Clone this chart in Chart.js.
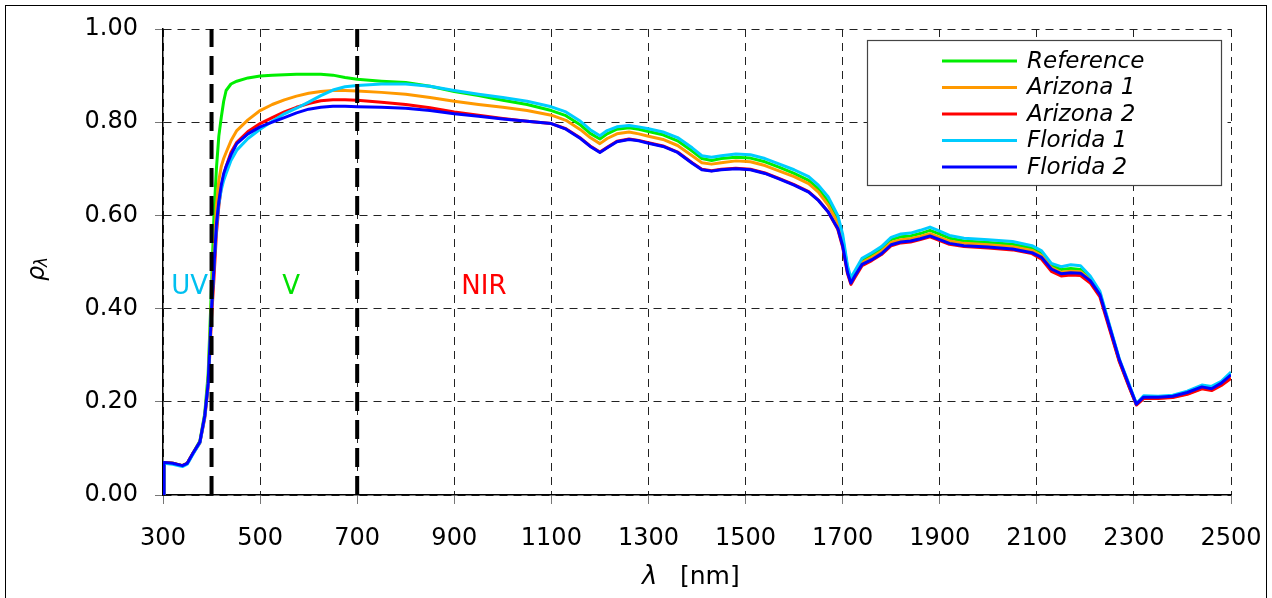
<!DOCTYPE html>
<html>
<head>
<meta charset="utf-8">
<script src="https://cdn.jsdelivr.net/npm/chart.js@4.4.0/dist/chart.umd.min.js"></script>
<style>
  html, body { margin: 0; padding: 0; background: #fff; }
</style>
</head>
<body>
<canvas id="reflChart" width="1272" height="598"></canvas>
<script>
// wavelength [nm]
var wavelengths = [
  300, 302, 320, 340, 350, 362, 376, 386, 393, 400,
  405, 410, 415, 420, 425, 430, 440, 452, 475, 500,
  525, 550, 575, 600, 625, 650, 675, 700, 750, 800,
  850, 900, 950, 1000, 1050, 1100, 1130, 1160, 1180, 1200,
  1215, 1235, 1260, 1280, 1300, 1330, 1360, 1390, 1410, 1430,
  1450, 1480, 1510, 1540, 1570, 1600, 1630, 1650, 1670, 1690,
  1700, 1710, 1717, 1725, 1740, 1760, 1780, 1800, 1820, 1840,
  1860, 1880, 1900, 1920, 1950, 2000, 2050, 2090, 2110, 2130,
  2150, 2170, 2190, 2210, 2230, 2250, 2270, 2290, 2305, 2320,
  2350, 2380, 2410, 2440, 2460, 2480, 2500
];

var reference = [
  0.00, 0.070, 0.068, 0.063, 0.068, 0.090, 0.116, 0.175, 0.260, 0.450,
  0.600, 0.700, 0.770, 0.810, 0.845, 0.868, 0.882, 0.888, 0.895, 0.899,
  0.901, 0.902, 0.903, 0.903, 0.903, 0.901, 0.896, 0.892, 0.888, 0.885,
  0.877, 0.866, 0.857, 0.847, 0.838, 0.825, 0.814, 0.794, 0.776, 0.764,
  0.775, 0.785, 0.788, 0.785, 0.780, 0.773, 0.760, 0.738, 0.722, 0.718,
  0.722, 0.725, 0.723, 0.715, 0.703, 0.690, 0.675, 0.657, 0.630, 0.592,
  0.552, 0.487, 0.462, 0.477, 0.503, 0.515, 0.528, 0.548, 0.554, 0.556,
  0.561, 0.568, 0.560, 0.551, 0.545, 0.542, 0.538, 0.530, 0.519, 0.492,
  0.484, 0.486, 0.484, 0.466, 0.433, 0.361, 0.289, 0.235, 0.195, 0.211,
  0.210, 0.212, 0.220, 0.233, 0.230, 0.240, 0.258
];

var arizona1 = [
  0.00, 0.070, 0.068, 0.063, 0.068, 0.090, 0.114, 0.170, 0.245, 0.420,
  0.520, 0.620, 0.675, 0.705, 0.722, 0.735, 0.760, 0.782, 0.805, 0.825,
  0.838, 0.848, 0.856, 0.862, 0.866, 0.868, 0.868, 0.867, 0.864, 0.860,
  0.853, 0.845, 0.838, 0.832, 0.825, 0.815, 0.804, 0.784, 0.767, 0.754,
  0.765, 0.775, 0.779, 0.775, 0.770, 0.763, 0.750, 0.728, 0.713, 0.710,
  0.713, 0.717, 0.715, 0.707, 0.695, 0.683, 0.668, 0.650, 0.622, 0.584,
  0.545, 0.483, 0.458, 0.473, 0.499, 0.510, 0.523, 0.542, 0.548, 0.550,
  0.555, 0.561, 0.553, 0.545, 0.540, 0.537, 0.533, 0.525, 0.514, 0.488,
  0.478, 0.480, 0.479, 0.462, 0.430, 0.358, 0.287, 0.233, 0.194, 0.208,
  0.208, 0.210, 0.217, 0.229, 0.226, 0.237, 0.252
];

var arizona2 = [
  0.00, 0.070, 0.068, 0.063, 0.068, 0.090, 0.112, 0.165, 0.230, 0.380,
  0.465, 0.560, 0.620, 0.660, 0.685, 0.705, 0.735, 0.757, 0.780, 0.797,
  0.810, 0.822, 0.832, 0.840, 0.846, 0.848, 0.848, 0.847, 0.843, 0.838,
  0.831, 0.822, 0.815, 0.808, 0.802, 0.797, 0.786, 0.766, 0.749, 0.736,
  0.746, 0.759, 0.764, 0.761, 0.756, 0.749, 0.736, 0.713, 0.699, 0.696,
  0.699, 0.701, 0.699, 0.691, 0.679, 0.666, 0.651, 0.633, 0.608, 0.570,
  0.532, 0.475, 0.452, 0.466, 0.492, 0.503, 0.516, 0.535, 0.541, 0.543,
  0.548, 0.554, 0.546, 0.538, 0.533, 0.530, 0.526, 0.518, 0.506, 0.480,
  0.470, 0.472, 0.471, 0.455, 0.425, 0.355, 0.286, 0.232, 0.193, 0.207,
  0.207, 0.209, 0.216, 0.228, 0.224, 0.235, 0.250
];

var florida1 = [
  0.00, 0.068, 0.066, 0.061, 0.066, 0.088, 0.112, 0.168, 0.238, 0.400,
  0.490, 0.575, 0.625, 0.655, 0.675, 0.690, 0.718, 0.740, 0.765, 0.785,
  0.802, 0.818, 0.830, 0.843, 0.857, 0.869, 0.876, 0.879, 0.882, 0.882,
  0.877, 0.868, 0.860, 0.853, 0.845, 0.833, 0.822, 0.802, 0.784, 0.771,
  0.782, 0.790, 0.793, 0.790, 0.786, 0.779, 0.767, 0.745, 0.728, 0.725,
  0.728, 0.732, 0.730, 0.722, 0.710, 0.698, 0.683, 0.665, 0.640, 0.600,
  0.560, 0.492, 0.466, 0.481, 0.508, 0.520, 0.533, 0.553, 0.560, 0.562,
  0.568, 0.575, 0.566, 0.557, 0.551, 0.548, 0.544, 0.535, 0.524, 0.497,
  0.490, 0.494, 0.492, 0.470, 0.437, 0.364, 0.292, 0.238, 0.196, 0.213,
  0.212, 0.214, 0.223, 0.236, 0.233, 0.244, 0.264
];

var florida2 = [
  0.00, 0.070, 0.068, 0.063, 0.068, 0.090, 0.114, 0.170, 0.240, 0.400,
  0.490, 0.580, 0.630, 0.665, 0.690, 0.705, 0.730, 0.754, 0.775, 0.790,
  0.800, 0.810, 0.820, 0.828, 0.832, 0.834, 0.834, 0.833, 0.832, 0.830,
  0.825, 0.818, 0.813, 0.807, 0.802, 0.797, 0.785, 0.765, 0.748, 0.735,
  0.745, 0.758, 0.763, 0.760, 0.755, 0.748, 0.735, 0.712, 0.698, 0.695,
  0.698, 0.700, 0.698, 0.690, 0.678, 0.665, 0.650, 0.632, 0.608, 0.572,
  0.535, 0.478, 0.455, 0.470, 0.495, 0.505, 0.518, 0.537, 0.543, 0.545,
  0.550, 0.556, 0.548, 0.540, 0.535, 0.532, 0.528, 0.520, 0.510, 0.485,
  0.475, 0.477, 0.476, 0.460, 0.430, 0.360, 0.290, 0.235, 0.195, 0.210,
  0.210, 0.212, 0.220, 0.232, 0.228, 0.240, 0.258
];

var seriesNames  = ['Reference', 'Arizona 1', 'Arizona 2', 'Florida 1', 'Florida 2'];
var seriesValues = [reference, arizona1, arizona2, florida1, florida2];
var seriesColors = ['#00ee00', '#ff9900', '#ff0000', '#00ccff', '#0000ff'];

// spectral band limits and band names
var bandEdges  = [400, 700];
var bandNames  = ['UV', 'V', 'NIR'];
var bandLabelX = [355, 564, 961];
var bandColors = ['#00c0f0', '#00e000', '#ff0000'];
var bandLabelY = 0.446;

var FONT = '"DejaVu Sans", Verdana, sans-serif';

function toPoints(values) {
  var pts = [];
  for (var i = 0; i < wavelengths.length; i++) {
    pts.push({x: wavelengths[i], y: values[i]});
  }
  return pts;
}

var datasets = [];
for (var j = 0; j < bandEdges.length; j++) {
  datasets.push({
    label: 'edge' + j,
    data: [{x: bandEdges[j], y: 0}, {x: bandEdges[j], y: 1}],
    borderColor: '#000',
    borderWidth: 4,
    borderDash: [19, 9],
    pointRadius: 0,
    order: 0
  });
}
for (var k = 0; k < seriesNames.length; k++) {
  datasets.push({
    label: seriesNames[k],
    data: toPoints(seriesValues[k]),
    borderColor: seriesColors[k],
    borderWidth: 3,
    pointRadius: 0,
    tension: 0,
    borderJoinStyle: 'round',
    order: seriesNames.length - k
  });
}

var decor = {
  id: 'decor',
  beforeDraw: function(chart) {
    var ctx = chart.ctx;
    ctx.save();
    ctx.fillStyle = '#fff';
    ctx.fillRect(0, 0, chart.width, chart.height);
    ctx.strokeStyle = '#000';
    ctx.lineWidth = 1;
    ctx.strokeRect(5.5, 5.5, 1261, 600);
    ctx.restore();
  },
  afterDatasetsDraw: function(chart) {
    var ctx = chart.ctx;
    var xs = chart.scales.x, ys = chart.scales.y;
    ctx.save();
    // band names
    ctx.font = '26px ' + FONT;
    ctx.textAlign = 'center';
    ctx.textBaseline = 'middle';
    for (var i = 0; i < bandNames.length; i++) {
      ctx.fillStyle = bandColors[i];
      ctx.fillText(bandNames[i], xs.getPixelForValue(bandLabelX[i]), ys.getPixelForValue(bandLabelY));
    }
    // legend box
    var bx = 867.5, by = 40.5, bw = 354, bh = 145;
    ctx.fillStyle = '#fff';
    ctx.fillRect(bx, by, bw, bh);
    ctx.strokeStyle = '#444';
    ctx.lineWidth = 1.2;
    ctx.strokeRect(bx, by, bw, bh);
    ctx.font = 'italic 23px ' + FONT;
    ctx.textAlign = 'left';
    ctx.textBaseline = 'middle';
    for (var s = 0; s < seriesNames.length; s++) {
      var ry = 61 + s * 26.5;
      ctx.strokeStyle = seriesColors[s];
      ctx.lineWidth = 3;
      ctx.beginPath();
      ctx.moveTo(942, ry);
      ctx.lineTo(1017, ry);
      ctx.stroke();
      ctx.fillStyle = '#000';
      ctx.fillText(seriesNames[s], 1027, ry + 1);
    }
    ctx.restore();
  },
  afterDraw: function(chart) {
    var ctx = chart.ctx;
    ctx.save();
    ctx.fillStyle = '#000';
    ctx.textBaseline = 'alphabetic';
    ctx.textAlign = 'left';
    // x axis title
    ctx.font = 'italic 26px ' + FONT;
    ctx.fillText('\u03bb', 642, 584);
    ctx.font = '25px ' + FONT;
    ctx.fillText('[nm]', 680, 584);
    // y axis title
    ctx.translate(44, 281);
    ctx.rotate(-Math.PI / 2);
    ctx.font = 'italic 24px ' + FONT;
    ctx.fillText('\u03c1', 0, 0);
    ctx.font = 'italic 17px ' + FONT;
    ctx.fillText('\u03bb', 14, 3);
    ctx.restore();
  }
};

new Chart(document.getElementById('reflChart').getContext('2d'), {
  type: 'line',
  data: {datasets: datasets},
  plugins: [decor],
  options: {
    responsive: false,
    animation: false,
    layout: {padding: {top: 29, right: 41, left: 0, bottom: 0}},
    plugins: {legend: {display: false}, tooltip: {enabled: false}},
    scales: {
      x: {
        type: 'linear',
        min: 300,
        max: 2500,
        afterFit: function(scale) {
          scale.height = 103;
          scale.paddingLeft = 0;
          scale.paddingRight = 0;
        },
        ticks: {stepSize: 200, padding: 20, color: '#000', font: {family: FONT, size: 24}, maxRotation: 0,
          callback: function(v) { return String(v); }},
        grid: {color: '#222', lineWidth: 1, tickLength: 9, tickColor: '#777', tickBorderDash: []},
        border: {color: '#000', width: 1.5, dash: [8, 6]}
      },
      y: {
        min: 0,
        max: 1,
        afterFit: function(scale) {
          scale.width = 163;
          scale.paddingTop = 0;
          scale.paddingBottom = 0;
        },
        ticks: {stepSize: 0.2, padding: 17, color: '#000', font: {family: FONT, size: 24},
          callback: function(v) { return v.toFixed(2); }},
        grid: {color: '#222', lineWidth: 1, tickLength: 8, tickColor: '#777', tickBorderDash: []},
        border: {color: '#000', width: 1.5, dash: [8, 6]}
      }
    }
  }
});
</script>
</body>
</html>
